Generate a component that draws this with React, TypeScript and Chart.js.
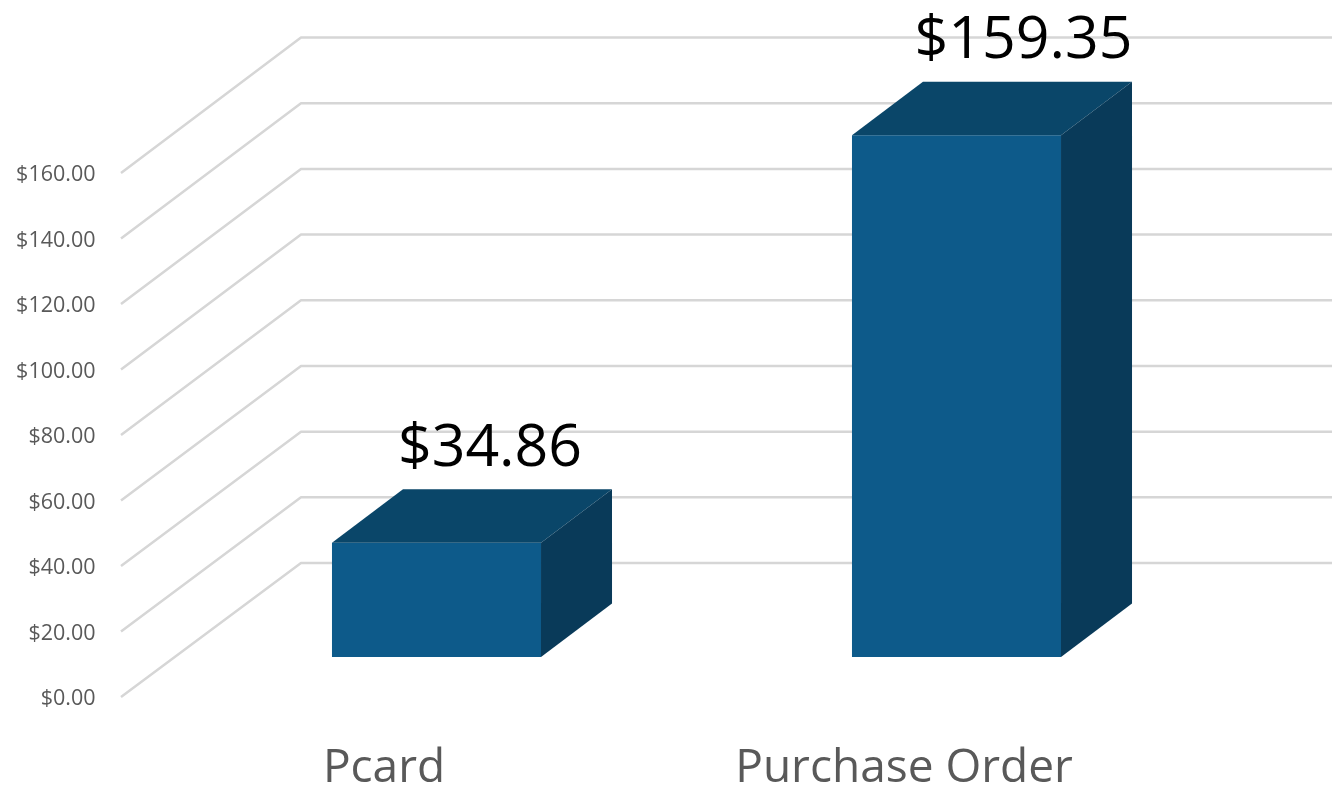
import React, { useEffect, useRef } from "react";
import { Chart, registerables } from "chart.js";

Chart.register(...registerables);

const categories = ["Pcard", "Purchase Order"];
const seriesValues = [34.86, 159.35];
const valueLabels = ["$34.86", "$159.35"];
const yMax = 160;
const yStep = 20;

const FONT = '"Open Sans", sans-serif';
const FRONT = "#0d5a8a";
const TOP = "#0a4669";
const SIDE = "#093a59";
const GRID = "#d6d6d6";
const TICK = "#595959";
const WALL_OFFSET_Y = -2;
const WALL_DX = 180;
const WALL_DY = -134;
const WALL_STRETCH = 1.0027;
const BAR_DX = 71;
const BAR_DY = -53.5;
const BAR_SHIFT_X = 52.5;
const BAR_SHIFT_Y = -42;
const LABEL_DX = [53.5, 67];
const LABEL_GAP = 23.5;

const perspective = {
  id: "perspective",
  beforeDatasetsDraw(chart: any) {
    const { ctx, scales, width } = chart;
    const y = scales.y;
    const zero = y.getPixelForValue(0) + WALL_OFFSET_Y;
    ctx.save();
    ctx.strokeStyle = GRID;
    ctx.lineWidth = 2.5;
    ctx.lineJoin = "round";
    for (let v = 0; v <= yMax; v += yStep) {
      const py = y.getPixelForValue(v) + WALL_OFFSET_Y;
      const back = zero + WALL_DY + (py - zero) * WALL_STRETCH;
      ctx.beginPath();
      ctx.moveTo(121, py);
      ctx.lineTo(121 + WALL_DX, back);
      ctx.lineTo(width, back);
      ctx.stroke();
    }
    ctx.restore();
    // the bars stand in front of the wall, off the axis plane
    ctx.save();
    ctx.translate(BAR_SHIFT_X, BAR_SHIFT_Y);
  },
  afterDatasetsDraw(chart: any) {
    const { ctx } = chart;
    const bars = chart.getDatasetMeta(0).data;
    bars.forEach((bar: any, i: number) => {
      const { x, y, base, width } = bar.getProps(["x", "y", "base", "width"], true);
      const l = x - width / 2;
      const r = x + width / 2;
      ctx.fillStyle = TOP;
      ctx.beginPath();
      ctx.moveTo(l, y);
      ctx.lineTo(l + BAR_DX, y + BAR_DY);
      ctx.lineTo(r + BAR_DX, y + BAR_DY);
      ctx.lineTo(r, y);
      ctx.closePath();
      ctx.fill();
      ctx.fillStyle = SIDE;
      ctx.beginPath();
      ctx.moveTo(r, y);
      ctx.lineTo(r + BAR_DX, y + BAR_DY);
      ctx.lineTo(r + BAR_DX, base + BAR_DY);
      ctx.lineTo(r, base);
      ctx.closePath();
      ctx.fill();
      ctx.fillStyle = "#000000";
      ctx.font = `59px ${FONT}`;
      ctx.textAlign = "center";
      ctx.textBaseline = "alphabetic";
      ctx.fillText(valueLabels[i], x + LABEL_DX[i], y + BAR_DY - LABEL_GAP);
    });
    ctx.restore();
  },
};

export default function App() {
  const ref = useRef<HTMLCanvasElement>(null);
  useEffect(() => {
    const chart = new Chart(ref.current as HTMLCanvasElement, {
      type: "bar",
      data: {
        labels: categories,
        datasets: [
          {
            data: seriesValues,
            backgroundColor: FRONT,
            borderWidth: 0,
            barPercentage: 1,
            categoryPercentage: 0.402,
            clip: false,
          } as any,
        ],
      },
      plugins: [perspective],
      options: {
        animation: false,
        responsive: false,
        layout: { padding: { top: 175, right: 168, left: 0, bottom: 0 } },
        plugins: { legend: { display: false }, tooltip: { enabled: false } },
        scales: {
          x: {
            afterFit: (s: any) => {
              s.height = 87;
            },
            grid: { display: false, drawTicks: false },
            border: { display: false },
            ticks: {
              padding: 42,
              maxRotation: 0,
              color: TICK,
              font: { family: FONT, size: 46 },
            },
          },
          y: {
            min: 0,
            max: yMax,
            afterFit: (s: any) => {
              s.width = 124;
            },
            grid: { display: false, drawTicks: false },
            border: { display: false },
            ticks: {
              stepSize: yStep,
              padding: 28.5,
              color: TICK,
              font: { family: FONT, size: 21.5 },
              callback: (v: any) => `$${Number(v).toFixed(2)}`,
            },
          },
        },
      } as any,
    });
    return () => chart.destroy();
  }, []);
  return (
    <div style={{ position: "absolute", left: 0, top: 0, width: 1332, height: 786, background: "#fff" }}>
      <canvas ref={ref} width={1332} height={786} style={{ display: "block" }} />
    </div>
  );
}
